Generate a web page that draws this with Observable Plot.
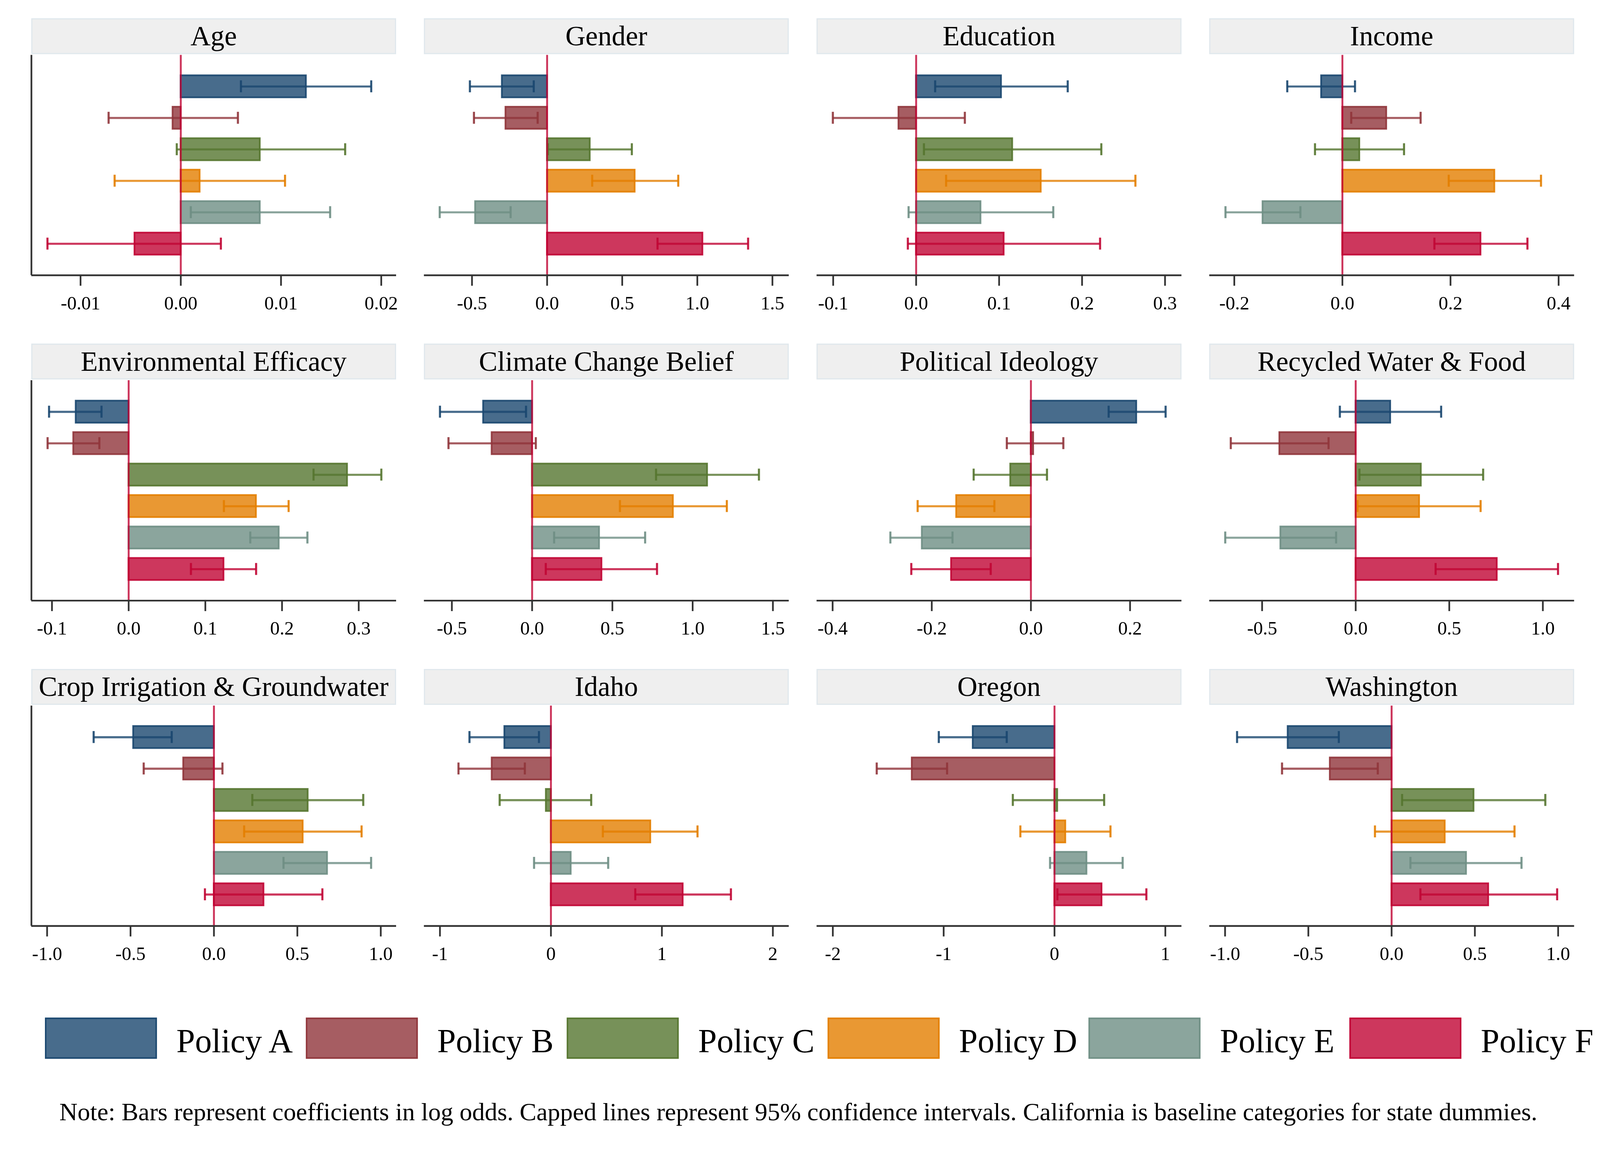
<!DOCTYPE html>
<html>
<head>
<meta charset="utf-8">
<script src="https://cdn.jsdelivr.net/npm/d3@7"></script>
<script src="https://cdn.jsdelivr.net/npm/@observablehq/plot@0.6"></script>
<style>
  html, body { margin: 0; padding: 0; background: #ffffff; overflow: hidden; }
  #fig { position: relative; width: 4201px; height: 2961px; background: #ffffff; overflow: hidden;
         font-family: "Liberation Serif", "Times New Roman", serif; color: #000; transform-origin: 0 0; }
  .strip { position: absolute; box-sizing: border-box; background: #efefef; border: 3px solid #e0e8ed;
           text-align: center; font-size: 73px; line-height: 88px; white-space: nowrap; color: #000; }
  .panel { position: absolute; }
  .panel svg { overflow: visible; }
  .panel svg text { font-family: "Liberation Serif", "Times New Roman", serif; font-size: 50px; fill: #000; }
  .panel [aria-label^="x-axis"] line, .panel [aria-label^="x-axis"] path { stroke: #333; stroke-width: 4.5px; }
  .legend-item { position: absolute; }
  .swatch { position: absolute; left: 0; top: 0; box-sizing: border-box; border-style: solid; border-width: 4px; }
  .legend-label { position: absolute; top: 8px; font-size: 88px; line-height: 108px; white-space: nowrap; }
  .note { position: absolute; font-size: 66px; line-height: 76px; height: 76px; white-space: nowrap; }
</style>
</head>
<body>
<div id="fig"></div>
<script>
// ---------- data ----------
const policies = ["Policy A", "Policy B", "Policy C", "Policy D", "Policy E", "Policy F"];
const policyColors = ["#1a476f", "#90353b", "#55752f", "#e37e00", "#6e8e84", "#c10534"];

const panelTitles = ["Age", "Gender", "Education", "Income",
  "Environmental Efficacy", "Climate Change Belief", "Political Ideology", "Recycled Water & Food",
  "Crop Irrigation & Groundwater", "Idaho", "Oregon", "Washington"];

// coefficients (log odds), one row per panel, in policy order A..F
const coef = [
  [0.0125, -0.0008, 0.0079, 0.0019, 0.0079, -0.0046],
  [-0.300, -0.276, 0.285, 0.584, -0.478, 1.035],
  [0.1025, -0.0211, 0.116, 0.1504, 0.0778, 0.1057],
  [-0.039, 0.0814, 0.0316, 0.2814, -0.1474, 0.2558],
  [-0.0688, -0.072, 0.285, 0.1662, 0.1959, 0.1239],
  [-0.304, -0.251, 1.091, 0.878, 0.418, 0.433],
  [0.2128, 0.0049, -0.0413, -0.1504, -0.2197, -0.1607],
  [0.1853, -0.4069, 0.349, 0.3397, -0.4015, 0.7547],
  [-0.483, -0.183, 0.563, 0.533, 0.679, 0.298],
  [-0.418, -0.532, -0.044, 0.897, 0.180, 1.189],
  [-0.736, -1.286, 0.026, 0.099, 0.290, 0.426],
  [-0.623, -0.370, 0.493, 0.320, 0.448, 0.581]
];
// 95% CI lower bounds
const ciLow = [
  [0.0060, -0.0072, -0.0004, -0.0066, 0.0010, -0.0133],
  [-0.514, -0.487, 0.005, 0.300, -0.715, 0.735],
  [0.0229, -0.1004, 0.0094, 0.0361, -0.0091, -0.0100],
  [-0.102, 0.0163, -0.0507, 0.1967, -0.2163, 0.1702],
  [-0.1038, -0.1057, 0.2411, 0.1242, 0.1586, 0.0812],
  [-0.574, -0.521, 0.772, 0.547, 0.137, 0.085],
  [0.1568, -0.0486, -0.1155, -0.2285, -0.2835, -0.2413],
  [-0.0846, -0.6674, 0.0201, 0.0094, -0.697, 0.427],
  [-0.721, -0.421, 0.230, 0.181, 0.417, -0.054],
  [-0.734, -0.833, -0.462, 0.468, -0.152, 0.760],
  [-1.044, -1.604, -0.376, -0.308, -0.040, 0.026],
  [-0.928, -0.658, 0.063, -0.100, 0.113, 0.173]
];
// 95% CI upper bounds
const ciHigh = [
  [0.0190, 0.0057, 0.0164, 0.0104, 0.0149, 0.0040],
  [-0.089, -0.063, 0.564, 0.873, -0.243, 1.338],
  [0.1827, 0.0587, 0.2232, 0.2643, 0.1653, 0.2217],
  [0.0233, 0.1447, 0.114, 0.3674, -0.0777, 0.3423],
  [-0.0354, -0.0382, 0.3295, 0.2086, 0.2331, 0.1662],
  [-0.038, 0.023, 1.413, 1.213, 0.704, 0.778],
  [0.2717, 0.0654, 0.0324, -0.0737, -0.1582, -0.0811],
  [0.4566, -0.145, 0.681, 0.6674, -0.1047, 1.081],
  [-0.253, 0.051, 0.895, 0.885, 0.942, 0.650],
  [-0.108, -0.235, 0.363, 1.321, 0.516, 1.622],
  [-0.431, -0.969, 0.448, 0.505, 0.615, 0.829],
  [-0.317, -0.083, 0.923, 0.738, 0.780, 0.994]
];
const xDomains = [
  [-0.0149, 0.0215], [-0.819, 1.610], [-0.1198, 0.320], [-0.246, 0.429],
  [-0.1268, 0.349], [-0.673, 1.600], [-0.432, 0.304], [-0.7815, 1.168],
  [-1.094, 1.093], [-1.143, 2.145], [-2.145, 1.147], [-1.094, 1.097]
];
const xTicks = [
  [-0.01, 0, 0.01, 0.02], [-0.5, 0, 0.5, 1, 1.5], [-0.1, 0, 0.1, 0.2, 0.3], [-0.2, 0, 0.2, 0.4],
  [-0.1, 0, 0.1, 0.2, 0.3], [-0.5, 0, 0.5, 1, 1.5], [-0.4, -0.2, 0, 0.2], [-0.5, 0, 0.5, 1],
  [-1, -0.5, 0, 0.5, 1], [-1, 0, 1, 2], [-2, -1, 0, 1], [-1, -0.5, 0, 0.5, 1]
];
const tickDecimals = [2, 1, 1, 1, 1, 1, 1, 1, 1, 0, 0, 1];
const yDomain = [0, 7];
const noteText = "Note: Bars represent coefficients in log odds. Capped lines represent 95% confidence intervals. California is baseline categories for state dummies.";

// ---------- layout ----------
const FIG_W = 4201, FIG_H = 2961;
const COL_X0 = 82, COL_PITCH = 1031, PANEL_W = 958;
const ROW_Y0 = 48, ROW_PITCH = 854, STRIP_H = 94, PLOT_H = 578, M = 40, MB = 110, MT = 2;
const BAR_HALF = 0.35, CAP_HALF = 0.19;
const fig = document.getElementById("fig");
const fade = (c, o) => { const k = d3.color(c); k.opacity = o; return k.formatRgb(); };

// fit the whole figure into the actual viewport
const fitScale = Math.min(window.innerWidth / FIG_W, window.innerHeight / FIG_H);
if (Math.abs(fitScale - 1) > 0.001) fig.style.transform = `scale(${fitScale})`;

panelTitles.forEach((title, p) => {
  const c = p % 4, r = Math.floor(p / 4);
  const left = COL_X0 + c * COL_PITCH, top = ROW_Y0 + r * ROW_PITCH;

  const strip = document.createElement("div");
  strip.className = "strip";
  Object.assign(strip.style, {left: left + "px", top: top + "px", width: PANEL_W + "px", height: STRIP_H + "px"});
  strip.textContent = title;
  fig.appendChild(strip);

  const rows = policies.map((policy, i) => ({policy, pos: i + 1, coef: coef[p][i], lo: ciLow[p][i], hi: ciHigh[p][i]}));

  const marks = [
    Plot.rectX(rows, {x1: () => 0, x2: "coef", y1: d => d.pos - BAR_HALF, y2: d => d.pos + BAR_HALF,
      fill: "policy", fillOpacity: 0.8, stroke: "policy", strokeOpacity: 0.9, strokeWidth: 4.5}),
    Plot.ruleY(rows, {y: "pos", x1: "lo", x2: "hi", stroke: "policy", strokeOpacity: 0.8, strokeWidth: 5.5}),
    Plot.ruleX(rows, {x: "lo", y1: d => d.pos - CAP_HALF, y2: d => d.pos + CAP_HALF, stroke: "policy", strokeOpacity: 0.9, strokeWidth: 5.5}),
    Plot.ruleX(rows, {x: "hi", y1: d => d.pos - CAP_HALF, y2: d => d.pos + CAP_HALF, stroke: "policy", strokeOpacity: 0.9, strokeWidth: 5.5}),
    Plot.ruleX([0], {stroke: "#c10534", strokeOpacity: 0.8, strokeWidth: 5}),
    Plot.ruleY([yDomain[1]], {stroke: "#333", strokeWidth: 4.5})
  ];
  if (c === 0) marks.push(Plot.ruleX([xDomains[p][0]], {stroke: "#333", strokeWidth: 4.5}));

  const svg = Plot.plot({
    width: PANEL_W + 2 * M,
    height: MT + PLOT_H + MB,
    marginLeft: M, marginRight: M, marginTop: MT, marginBottom: MB,
    x: {domain: xDomains[p], ticks: xTicks[p], tickFormat: v => v.toFixed(tickDecimals[p]),
        tickSize: 28, tickPadding: 26, label: null},
    y: {domain: yDomain, reverse: true, axis: null},
    color: {domain: policies, range: policyColors},
    style: {background: "transparent", overflow: "visible", fontFamily: "Liberation Serif, Times New Roman, serif", fontSize: "50px", color: "#222"},
    marks
  });
  const holder = document.createElement("div");
  holder.className = "panel";
  Object.assign(holder.style, {left: (left - M) + "px", top: (top + STRIP_H) + "px", width: (PANEL_W + 2 * M) + "px"});
  holder.appendChild(svg);
  fig.appendChild(holder);
});

// ---------- legend ----------
const LEG_X0 = 118, LEG_PITCH = 685, LEG_TOP = 2671, SW_W = 294, SW_H = 108, LABEL_X = 345;
policies.forEach((name, k) => {
  const item = document.createElement("div");
  item.className = "legend-item";
  Object.assign(item.style, {left: (LEG_X0 + k * LEG_PITCH) + "px", top: LEG_TOP + "px"});
  const sw = document.createElement("div");
  sw.className = "swatch";
  Object.assign(sw.style, {width: SW_W + "px", height: SW_H + "px",
    background: fade(policyColors[k], 0.8), borderColor: fade(policyColors[k], 0.9)});
  const lab = document.createElement("div");
  lab.className = "legend-label";
  lab.style.left = LABEL_X + "px";
  lab.textContent = name;
  item.appendChild(sw);
  item.appendChild(lab);
  fig.appendChild(item);
});

// ---------- note ----------
const note = document.createElement("div");
note.className = "note";
Object.assign(note.style, {left: "156px", top: "2880px"});
note.textContent = noteText;
fig.appendChild(note);
</script>
</body>
</html>
